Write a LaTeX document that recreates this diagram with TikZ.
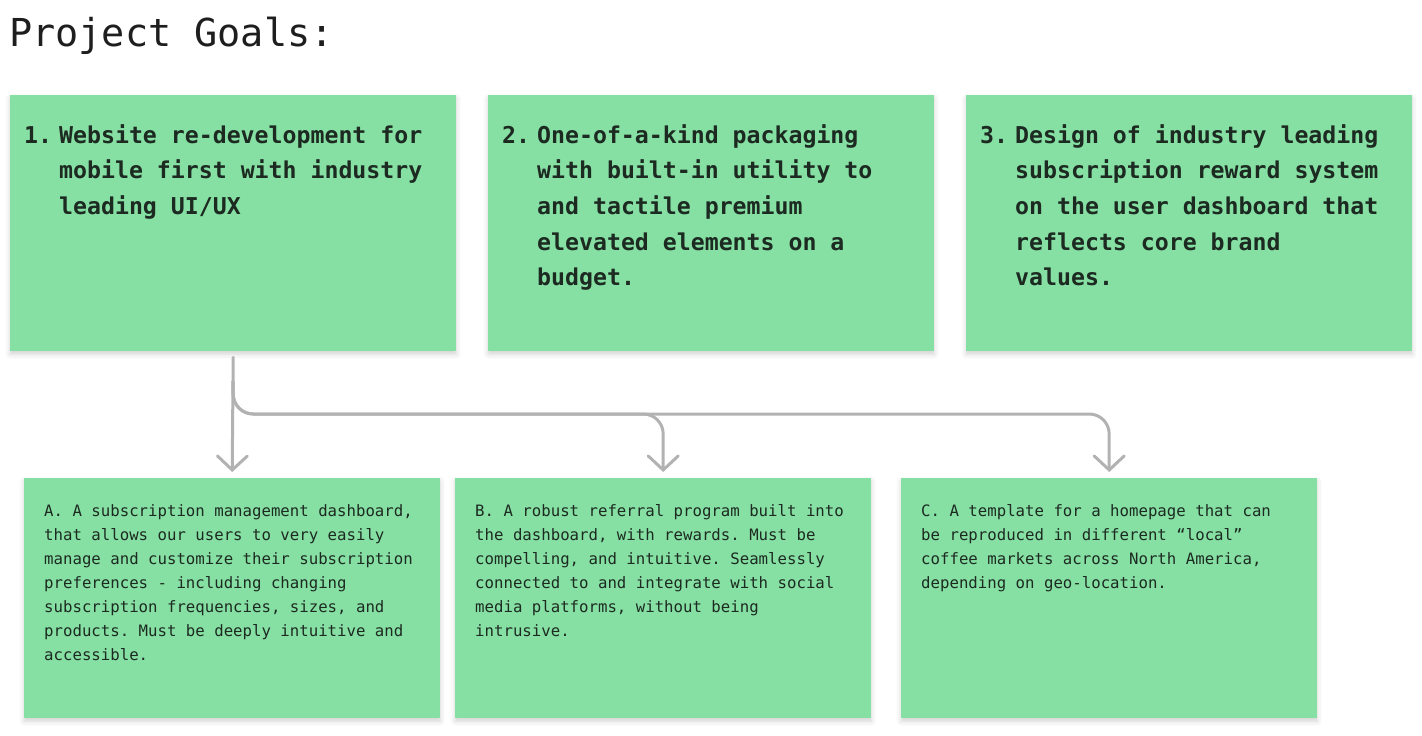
\documentclass[tikz,border=0pt]{standalone}
\usepackage{fontspec}
\setmonofont{DejaVu Sans Mono}
\usetikzlibrary{arrows.meta,shadows.blur}
\definecolor{sticky}{HTML}{86E0A3}
\definecolor{ink}{HTML}{1C2A21}
\definecolor{wire}{HTML}{B2B2B2}
\definecolor{titleink}{HTML}{1E1E1E}
\tikzset{
  card/.style={rectangle, fill=sticky, draw=none, inner sep=0pt, anchor=north west,
    blur shadow={shadow xshift=0pt, shadow yshift=-3pt, shadow blur radius=5pt, shadow opacity=18}},
  goal/.style={card, minimum width=446pt, minimum height=256pt},
  task/.style={card, minimum width=416pt, minimum height=240pt},
  goaltext/.style={anchor=base west, inner sep=0pt, text=ink,
    font=\ttfamily\bfseries\fontsize{23.2}{35.7}\selectfont},
  tasktext/.style={anchor=base west, inner sep=0pt, text=ink,
    font=\ttfamily\fontsize{15.7}{24}\selectfont},
  heading/.style={anchor=base west, inner sep=0pt, text=titleink,
    font=\ttfamily\fontsize{38.5}{42}\selectfont},
  conn/.style={draw=wire, line width=3pt, line cap=round,
    -{Straight Barb[length=14pt,width=30pt,line cap=round]}},
}
\begin{document}
\begin{tikzpicture}[x=1pt,y=-1pt]
\useasboundingbox (0,0) rectangle (1422,736);

\node[heading] (title) at (9,46.5) {Project Goals:};

% goal cards
\node[goal] (g1) at (10,95) {};
\node[goal] (g2) at (488,95) {};
\node[goal] (g3) at (966,95) {};

\node[goaltext] (g1t) at ([xshift=14pt,yshift=-48pt]g1.north west)
  {\makebox[35pt][l]{1.}\parbox[t]{385pt}{\raggedright Website re-development for\\mobile first with industry\\leading UI/UX}};
\node[goaltext] (g2t) at ([xshift=14pt,yshift=-48pt]g2.north west)
  {\makebox[35pt][l]{2.}\parbox[t]{385pt}{\raggedright One-of-a-kind packaging\\with built-in utility to\\and tactile premium\\elevated elements on a\\budget.}};
\node[goaltext] (g3t) at ([xshift=14pt,yshift=-48pt]g3.north west)
  {\makebox[35pt][l]{3.}\parbox[t]{385pt}{\raggedright Design of industry leading\\subscription reward system\\on the user dashboard that\\reflects core brand\\values.}};

% task cards
\node[task] (tA) at (24,478) {};
\node[task] (tB) at (455,478) {};
\node[task] (tC) at (901,478) {};

\node[tasktext] (tAt) at ([xshift=20pt,yshift=-38pt]tA.north west)
  {\parbox[t]{390pt}{\raggedright A. A subscription management dashboard,\\that allows our users to very easily\\manage and customize their subscription\\preferences - including changing\\subscription frequencies, sizes, and\\products. Must be deeply intuitive and\\accessible.}};
\node[tasktext] (tBt) at ([xshift=20pt,yshift=-38pt]tB.north west)
  {\parbox[t]{390pt}{\raggedright B. A robust referral program built into\\the dashboard, with rewards. Must be\\compelling, and intuitive. Seamlessly\\connected to and integrate with social\\media platforms, without being\\intrusive.}};
\node[tasktext] (tCt) at ([xshift=20pt,yshift=-38pt]tC.north west)
  {\parbox[t]{390pt}{\raggedright C. A template for a homepage that can\\be reproduced in different “local”\\coffee markets across North America,\\depending on geo-location.}};

% connectors
\coordinate (bus) at (0,414);
\draw[conn, rounded corners=20pt] ([yshift=-30pt]g1.south) |- (tB.north |- bus) -- ([yshift=6pt]tB.north);
\draw[conn, rounded corners=20pt] ([yshift=-30pt]g1.south) |- (tC.north |- bus) -- ([yshift=6pt]tC.north);
\draw[conn] ([yshift=-6pt]g1.south) -- ([yshift=6pt]tA.north);
\end{tikzpicture}
\end{document}
